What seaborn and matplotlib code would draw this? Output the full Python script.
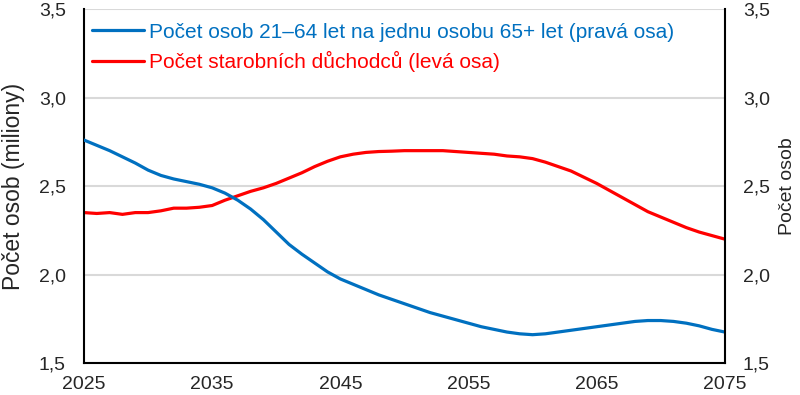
import pandas as pd
import matplotlib
matplotlib.use("Agg")
import matplotlib.pyplot as plt
import seaborn as sns

years = list(range(2025, 2076))

# pocet osob 21-64 na jednu osobu 65+ (prava osa)
ratio = [2.76, 2.73, 2.70, 2.665, 2.63, 2.59, 2.56, 2.54, 2.525, 2.51,
         2.49, 2.46, 2.42, 2.37, 2.31, 2.24, 2.17, 2.115, 2.065, 2.015,
         1.975, 1.945, 1.915, 1.885, 1.86, 1.835, 1.81, 1.785, 1.765, 1.745,
         1.725, 1.705, 1.69, 1.675, 1.665, 1.66, 1.665, 1.675, 1.685, 1.695,
         1.705, 1.715, 1.725, 1.735, 1.74, 1.74, 1.735, 1.725, 1.71, 1.69,
         1.675]

# pocet starobnich duchodcu v milionech (leva osa)
pensioners = [2.35, 2.345, 2.35, 2.34, 2.35, 2.35, 2.36, 2.375, 2.375, 2.38,
              2.39, 2.42, 2.445, 2.47, 2.49, 2.515, 2.545, 2.575, 2.61, 2.64,
              2.665, 2.68, 2.69, 2.695, 2.697, 2.70, 2.70, 2.70, 2.70, 2.695,
              2.69, 2.685, 2.68, 2.67, 2.665, 2.655, 2.635, 2.61, 2.585, 2.55,
              2.515, 2.475, 2.435, 2.395, 2.355, 2.325, 2.295, 2.265, 2.24, 2.22,
              2.20]

x_ticks = [2025, 2035, 2045, 2055, 2065, 2075]
y_ticks = [1.5, 2.0, 2.5, 3.0, 3.5]
y_labels = ["1,5", "2,0", "2,5", "3,0", "3,5"]

label_ratio = "Počet osob 21–64 let na jednu osobu 65+ let (pravá osa)"
label_pens = "Počet starobních důchodců (levá osa)"

blue = "#0070C0"
red = "#FF0000"

sns.set_style("white")
plt.rcParams["font.family"] = ["Liberation Sans", "DejaVu Sans"]

df = pd.DataFrame({"rok": years, "ratio": ratio, "pens": pensioners})

fig = plt.figure(figsize=(8, 3.95), dpi=100)
ax = fig.add_axes([0.105, 0.081, 0.801, 0.896])
ax2 = ax.twinx()

sns.lineplot(data=df, x="rok", y="pens", ax=ax, color=red, linewidth=2.3,
             label=label_pens, legend=False)
sns.lineplot(data=df, x="rok", y="ratio", ax=ax2, color=blue, linewidth=2.3,
             label=label_ratio, legend=False)

for a in (ax, ax2):
    a.set_ylim(1.5, 3.5)
    a.set_yticks(y_ticks)
    a.set_yticklabels(y_labels, fontsize=14)
    a.tick_params(length=0, pad=13)
    a.set_xlabel("")
    for s in a.spines.values():
        s.set_visible(False)

ax.set_xlim(2025, 2075)
ax.set_xticks(x_ticks)
ax.set_xticklabels([str(t) for t in x_ticks], fontsize=14)
ax.tick_params(axis="x", pad=9)

ax.yaxis.grid(True, color="#D9D9D9", linewidth=1.5)
ax.set_axisbelow(True)

for side in ("left", "bottom"):
    ax.spines[side].set_visible(True)
    ax.spines[side].set_color("black")
    ax.spines[side].set_linewidth(1.5)
ax2.spines["right"].set_visible(True)
ax2.spines["right"].set_color("black")
ax2.spines["right"].set_linewidth(1.5)

ax.set_ylabel("Počet osob (miliony)", fontsize=16.5)
ax.yaxis.set_label_coords(-0.092, 0.5)
ax2.set_ylabel("Počet osob", fontsize=14)
ax2.yaxis.set_label_coords(1.084, 0.5)

h1, l1 = ax.get_legend_handles_labels()
h2, l2 = ax2.get_legend_handles_labels()
leg = ax2.legend(h2 + h1, l2 + l1, loc="upper left", frameon=False,
                 fontsize=15, handlelength=2.5, handletextpad=0.2,
                 labelspacing=0.45, borderaxespad=0.0,
                 bbox_to_anchor=(0.0, 0.985))
for txt, c in zip(leg.get_texts(), [blue, red]):
    txt.set_color(c)

fig.savefig("out.png", dpi=100)
